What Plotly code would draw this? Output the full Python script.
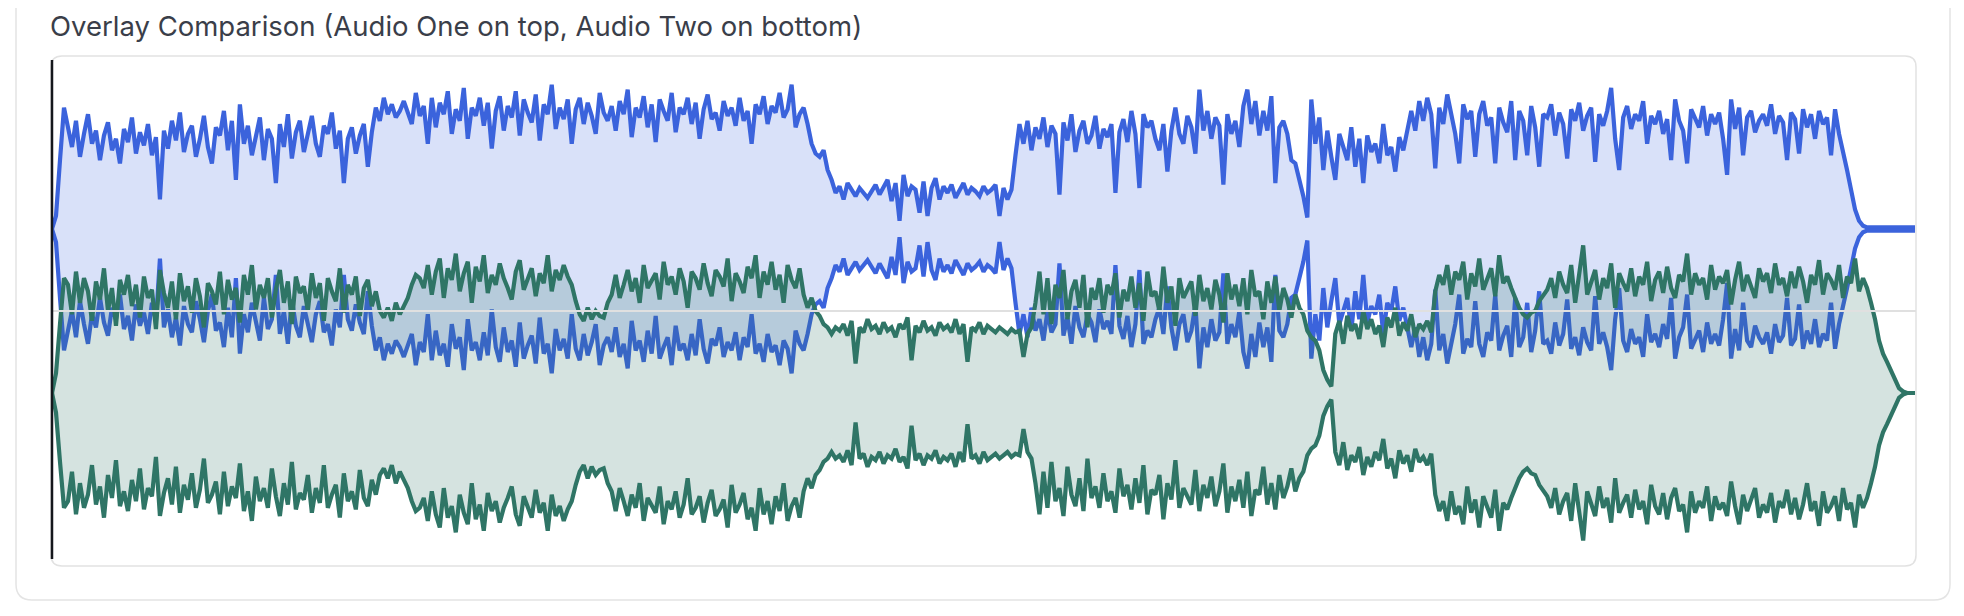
import plotly.graph_objects as go

# amplitude envelopes (one value per sample)
blue_amp = [
    0.00, 0.08, 0.42, 0.74,
    0.62, 0.50, 0.66, 0.44, 0.58, 0.70, 0.52, 0.60, 0.42, 0.57, 0.65, 0.48, 0.55, 0.40, 0.61, 0.53, 0.68, 0.46, 0.59, 0.51,
    0.64, 0.45, 0.56, 0.18, 0.60, 0.49, 0.66, 0.54, 0.71, 0.47, 0.58, 0.63, 0.44, 0.55, 0.69, 0.50, 0.40, 0.62, 0.57, 0.72,
    0.48, 0.66, 0.30, 0.76, 0.52, 0.63, 0.45, 0.58, 0.68, 0.42, 0.61, 0.55, 0.28, 0.64, 0.50, 0.70, 0.43, 0.59, 0.66, 0.47,
    0.57, 0.69, 0.52, 0.44, 0.63, 0.58, 0.71, 0.49, 0.60, 0.28, 0.55, 0.62, 0.46, 0.57, 0.64, 0.38, 0.59,
    0.74, 0.66, 0.80, 0.70, 0.76, 0.68, 0.72, 0.78, 0.71, 0.64, 0.83, 0.69, 0.75, 0.52, 0.80, 0.62, 0.77, 0.70, 0.84, 0.58,
    0.73, 0.66, 0.86, 0.55, 0.74, 0.69, 0.80, 0.63, 0.77, 0.49, 0.72, 0.81, 0.60, 0.75, 0.68, 0.84, 0.57, 0.79, 0.71, 0.65,
    0.82, 0.54, 0.76, 0.70, 0.88, 0.61, 0.74, 0.67, 0.79, 0.52, 0.73, 0.80, 0.64, 0.77, 0.69, 0.58, 0.83, 0.71, 0.66, 0.75,
    0.60, 0.78, 0.70, 0.85, 0.56, 0.74, 0.68, 0.81, 0.62, 0.76, 0.53, 0.79, 0.72, 0.66, 0.83, 0.59, 0.74, 0.70, 0.80, 0.64,
    0.77, 0.55, 0.73, 0.82, 0.67, 0.71, 0.60, 0.78, 0.69, 0.74, 0.63, 0.80, 0.66, 0.72, 0.52, 0.76, 0.70, 0.81, 0.64, 0.75,
    0.71, 0.83, 0.68, 0.73, 0.88, 0.62, 0.70,
    0.74, 0.64, 0.52, 0.46, 0.44, 0.48, 0.36, 0.30,
    0.22, 0.26, 0.18, 0.28, 0.24, 0.20, 0.25, 0.22, 0.19, 0.23, 0.27, 0.21, 0.26, 0.30, 0.17, 0.28, 0.05, 0.33, 0.20, 0.26,
    0.24, 0.10, 0.29, 0.08, 0.25, 0.31, 0.18, 0.26, 0.22, 0.27, 0.19, 0.24, 0.28, 0.21, 0.25, 0.23, 0.20, 0.26, 0.22, 0.24,
    0.27, 0.08, 0.25, 0.18, 0.24,
    0.45, 0.64, 0.52, 0.66, 0.48, 0.62, 0.55, 0.68, 0.50, 0.63, 0.58, 0.21, 0.65, 0.54, 0.70, 0.47, 0.60, 0.66, 0.52, 0.57,
    0.69, 0.49, 0.61, 0.56, 0.64, 0.22, 0.59, 0.67, 0.53, 0.72, 0.58, 0.25, 0.70, 0.62, 0.66, 0.55, 0.48, 0.64, 0.35, 0.60,
    0.74, 0.58, 0.52, 0.69, 0.62, 0.46, 0.85, 0.60, 0.72, 0.55, 0.68, 0.63, 0.27, 0.70, 0.58, 0.66, 0.50, 0.75, 0.85, 0.64,
    0.78, 0.57, 0.72, 0.60, 0.81, 0.28, 0.62,
    0.66, 0.58, 0.42, 0.40, 0.30, 0.20, 0.07,
    0.79,
    0.52, 0.68, 0.36, 0.60, 0.44, 0.30, 0.58, 0.49, 0.42, 0.62, 0.38, 0.55, 0.28, 0.57, 0.47, 0.52, 0.40, 0.64, 0.45, 0.50,
    0.35, 0.56, 0.48, 0.60,
    0.72, 0.60, 0.78, 0.66, 0.80, 0.70, 0.37, 0.74, 0.64, 0.82, 0.69, 0.58, 0.40, 0.76, 0.67, 0.72, 0.44, 0.70, 0.78, 0.63,
    0.68, 0.40, 0.74, 0.65, 0.59, 0.78, 0.42, 0.72, 0.66, 0.45, 0.75, 0.62, 0.38, 0.70, 0.68, 0.76, 0.57, 0.71, 0.64, 0.43,
    0.73, 0.66, 0.77, 0.60, 0.69, 0.74, 0.41, 0.70, 0.63, 0.72, 0.86, 0.55, 0.36, 0.68, 0.75, 0.61, 0.70, 0.66, 0.78, 0.52,
    0.69, 0.64, 0.72, 0.58, 0.67, 0.42, 0.79, 0.66, 0.60, 0.40, 0.73, 0.68, 0.62, 0.75, 0.57, 0.70, 0.64, 0.71, 0.55, 0.33,
    0.79, 0.61, 0.74, 0.45, 0.68, 0.72, 0.59, 0.66, 0.70, 0.63, 0.76, 0.58, 0.69, 0.65, 0.42, 0.71, 0.67, 0.46, 0.73, 0.62,
    0.70, 0.55, 0.72, 0.64, 0.68, 0.45, 0.73,
    0.58, 0.48, 0.36, 0.24, 0.12, 0.05, 0.02,
    0.01, 0.01, 0.01, 0.01, 0.01, 0.01, 0.01, 0.01, 0.01, 0.01, 0.01, 0.01, 0.01,
]

green_amp = [
    0.00, 0.12, 0.42, 0.70,
    0.66, 0.48, 0.74, 0.55, 0.70, 0.62, 0.44, 0.68, 0.57, 0.76, 0.50, 0.64, 0.41, 0.69, 0.60, 0.72, 0.53, 0.66, 0.46, 0.71,
    0.58, 0.63, 0.39, 0.75, 0.61, 0.52, 0.68, 0.45, 0.73, 0.56, 0.65, 0.49, 0.70, 0.59, 0.40, 0.67, 0.62, 0.54, 0.74, 0.48,
    0.69, 0.57, 0.64, 0.43, 0.72, 0.60, 0.78, 0.51, 0.66, 0.58, 0.70, 0.46, 0.63, 0.75, 0.55, 0.68, 0.42, 0.71, 0.61, 0.65,
    0.50, 0.73, 0.58, 0.67, 0.44, 0.70, 0.62, 0.56, 0.76, 0.49, 0.66, 0.60, 0.71, 0.47, 0.64, 0.69, 0.53, 0.62,
    0.50, 0.46, 0.52, 0.44, 0.55, 0.48, 0.53, 0.58,
    0.66, 0.72, 0.70, 0.64, 0.78, 0.60, 0.74, 0.82, 0.58, 0.76, 0.69, 0.85, 0.62, 0.73, 0.80, 0.55, 0.77, 0.68, 0.84, 0.61,
    0.72, 0.66, 0.79, 0.70, 0.64, 0.57, 0.74, 0.81, 0.63, 0.70, 0.76, 0.59, 0.73, 0.67, 0.84, 0.62, 0.75, 0.69, 0.78, 0.71,
    0.66,
    0.56, 0.48, 0.44, 0.52, 0.45, 0.50, 0.47, 0.46, 0.55, 0.60,
    0.72, 0.58, 0.66, 0.75, 0.62, 0.70, 0.55, 0.78, 0.64, 0.69, 0.73, 0.57, 0.80, 0.66, 0.71, 0.60, 0.76, 0.68, 0.52, 0.74,
    0.70, 0.63, 0.79, 0.67, 0.59, 0.75, 0.71, 0.65, 0.82, 0.56, 0.73, 0.68, 0.61, 0.77, 0.70, 0.84, 0.58, 0.74, 0.66, 0.80,
    0.63, 0.72, 0.55, 0.78, 0.69, 0.64, 0.76, 0.60, 0.52,
    0.58, 0.50, 0.47, 0.42, 0.40,
    0.36, 0.40, 0.38, 0.42, 0.35, 0.44, 0.18, 0.40, 0.37, 0.45, 0.39, 0.41, 0.36, 0.43, 0.38, 0.40, 0.34, 0.42, 0.39, 0.46,
    0.20, 0.41, 0.37, 0.44, 0.38, 0.40, 0.35, 0.43, 0.39, 0.41, 0.37, 0.45, 0.36, 0.42, 0.19, 0.40, 0.38, 0.43, 0.36, 0.41,
    0.39, 0.37, 0.40, 0.38, 0.36, 0.39, 0.37, 0.38, 0.22, 0.36, 0.40,
    0.55, 0.74, 0.48, 0.70, 0.42, 0.66, 0.58, 0.75, 0.45, 0.62, 0.69, 0.52, 0.72, 0.40, 0.64, 0.57, 0.70, 0.49, 0.66, 0.60,
    0.73, 0.46, 0.63, 0.56, 0.71, 0.52, 0.67, 0.44, 0.74, 0.59, 0.62, 0.50, 0.77, 0.55, 0.65, 0.41, 0.70, 0.58, 0.63, 0.68,
    0.47, 0.72, 0.56, 0.64, 0.51, 0.69, 0.60, 0.43, 0.73, 0.57, 0.66, 0.53, 0.70, 0.48, 0.75, 0.59, 0.62, 0.45, 0.68, 0.55,
    0.71, 0.50, 0.64, 0.57, 0.46, 0.60, 0.52, 0.48,
    0.38, 0.34, 0.32, 0.26, 0.14, 0.08, 0.04,
    0.36, 0.44, 0.30, 0.47, 0.38, 0.42, 0.33, 0.50, 0.39, 0.45, 0.36, 0.41, 0.28, 0.46, 0.40, 0.52, 0.35, 0.43, 0.38, 0.48,
    0.34, 0.42, 0.39, 0.44, 0.37,
    0.62, 0.72, 0.66, 0.78, 0.60, 0.74, 0.69, 0.80, 0.57, 0.73, 0.65, 0.82, 0.63, 0.70, 0.76, 0.59, 0.84, 0.67, 0.71, 0.64,
    0.58, 0.52, 0.48, 0.46, 0.49, 0.50, 0.56, 0.60,
    0.63, 0.70, 0.58, 0.74, 0.66, 0.61, 0.78, 0.55, 0.72, 0.90, 0.60, 0.68, 0.75, 0.57, 0.70, 0.64, 0.79, 0.52, 0.73, 0.67,
    0.62, 0.76, 0.59, 0.71, 0.66, 0.80, 0.56, 0.69, 0.74, 0.61, 0.77, 0.64, 0.58, 0.72, 0.68, 0.85, 0.60, 0.73, 0.66, 0.70,
    0.57, 0.78, 0.63, 0.71, 0.67, 0.75, 0.54, 0.69, 0.80, 0.62, 0.72, 0.65, 0.58, 0.76, 0.68, 0.73, 0.61, 0.79, 0.66, 0.70,
    0.59, 0.74, 0.64, 0.77, 0.68, 0.55, 0.72, 0.66, 0.81, 0.60, 0.73, 0.69, 0.63, 0.78, 0.58, 0.71, 0.67, 0.82, 0.62, 0.70,
    0.64, 0.55,
    0.45, 0.32, 0.24, 0.19, 0.14, 0.08, 0.03, 0.01,
    0.00, 0.00, 0.00,
]

series_names = ["Audio One", "Audio Two"]
centers = [0.5, -0.5]
line_colors = ["#3b63dc", "#2f7566"]
fill_colors = ["rgba(65,105,225,0.2)", "rgba(47,117,102,0.2)"]

# the page body keeps an 8px margin, so work in page pixels and shift by it
OFF = 8
W, H = 1964 - 2 * OFF, 616 - 2 * OFF
PL, PT, PR, PB = 51 - OFF, 56 - OFF, 1916 - OFF, 566 - OFF   # plot box


def fx(px):
    return (px - OFF - PL) / (PR - PL)


def fy(py):
    return (PB - (py - OFF)) / (PB - PT)


def rounded_rect(x0, y0, x1, y1, r):
    """ svg path of a rounded box, page pixels -> paper coords. """
    a, b, c, d = fx(x0), fy(y1), fx(x1), fy(y0)
    rx = r / (PR - PL)
    ry = r / (PB - PT)
    return (f"M {a + rx},{d} L {c - rx},{d} Q {c},{d} {c},{d - ry} "
            f"L {c},{b + ry} Q {c},{b} {c - rx},{b} L {a + rx},{b} "
            f"Q {a},{b} {a},{b + ry} L {a},{d - ry} Q {a},{d} {a + rx},{d} Z")


fig = go.Figure()

for name, amp, center, lc, fc in zip(series_names, [blue_amp, green_amp], centers, line_colors, fill_colors):
    xs = list(range(len(amp)))
    upper = [center + a for a in amp]
    lower = [center - a for a in amp]
    fig.add_trace(go.Scatter(x=xs, y=upper, mode="lines", name=name,
                             line=dict(color=lc, width=4.2), hoverinfo="skip"))
    fig.add_trace(go.Scatter(x=xs, y=lower, mode="lines", name=name,
                             line=dict(color=lc, width=4.2), fill="tonexty",
                             fillcolor=fc, hoverinfo="skip"))

n = len(blue_amp)
shapes = [
    # outer card
    dict(type="path", xref="paper", yref="paper", path=rounded_rect(16, -30, 1950, 600, 16),
         line=dict(color="#e4e4e4", width=1.5), layer="below"),
    # plot box
    dict(type="path", xref="paper", yref="paper", path=rounded_rect(51, 56, 1916, 566, 11),
         line=dict(color="#e2e2e2", width=1.5), layer="above"),
    # zero line
    dict(type="line", xref="paper", yref="y", x0=fx(52), x1=1, y0=0, y1=0,
         line=dict(color="#e0e0e0", width=2), layer="above"),
    # left axis line
    dict(type="line", xref="paper", yref="paper", x0=fx(52), x1=fx(52), y0=fy(60), y1=fy(559),
         line=dict(color="#15171c", width=2.5), layer="above"),
]

fig.update_layout(
    width=W, height=H,
    margin=dict(l=PL, r=W - PR, t=PT, b=H - PB),
    paper_bgcolor="white", plot_bgcolor="white",
    showlegend=False,
    xaxis=dict(range=[-0.25, n - 1 + 0.25], visible=False, fixedrange=True),
    yaxis=dict(range=[-1.555, 1.555], visible=False, fixedrange=True),
    shapes=shapes,
    annotations=[dict(
        text="Overlay Comparison (Audio One on top, Audio Two on bottom)",
        xref="paper", yref="paper", x=fx(49), y=fy(OFF),
        xanchor="left", yanchor="top", showarrow=False, borderpad=0,
        font=dict(family="Inter, Roboto, sans-serif", size=27.5, color="#3a3e49"),
    )],
)

fig.write_html("out.html")
